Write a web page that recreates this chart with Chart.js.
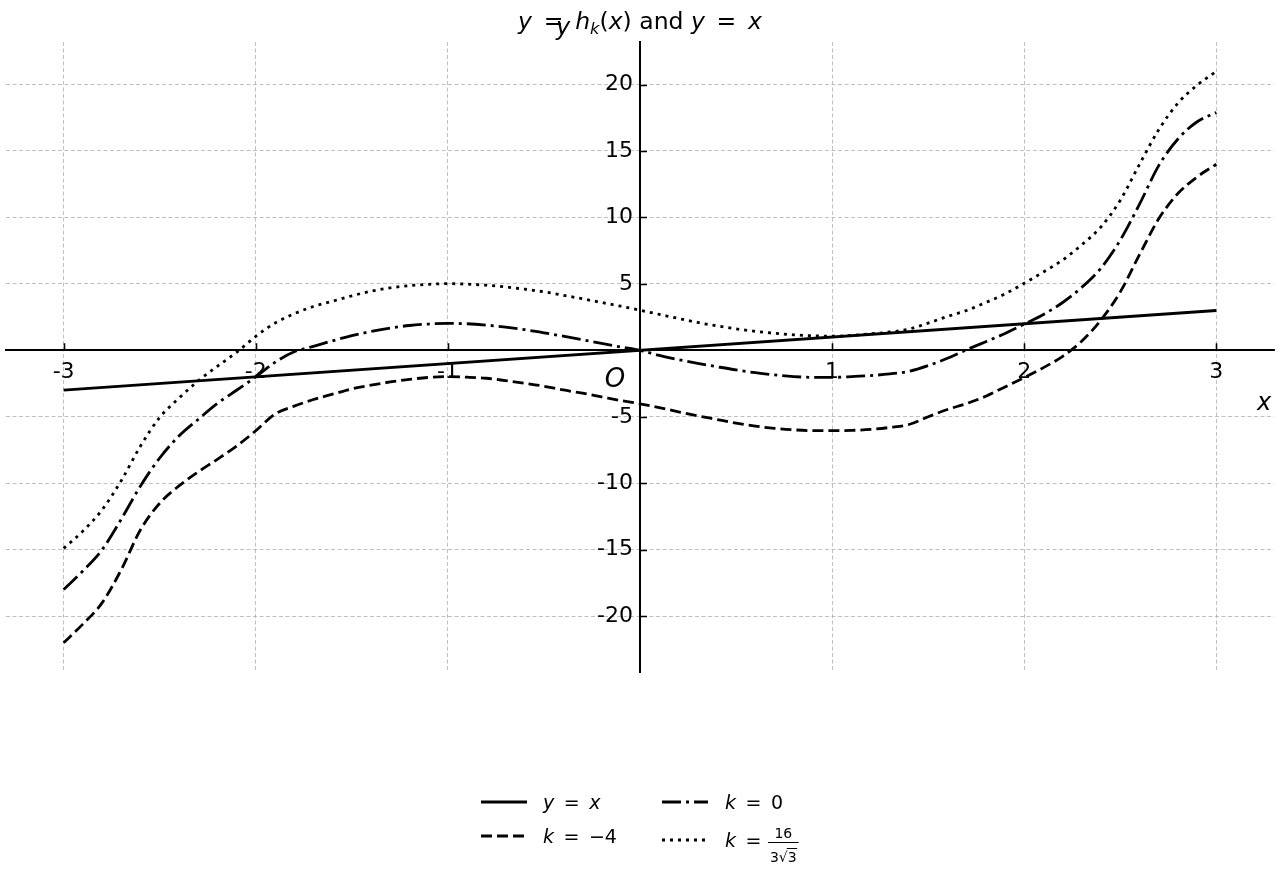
<!DOCTYPE html>
<html>
<head>
<meta charset="utf-8">
<script src="https://cdn.jsdelivr.net/npm/chart.js@4.4.1/dist/chart.umd.min.js"></script>
<style>
  html, body { margin: 0; padding: 0; background: #fff; }
</style>
</head>
<body>
<canvas id="hChart" width="1280" height="880"></canvas>
<script>
// sample positions along x
const xs = [-3, -2.9, -2.8, -2.7, -2.6, -2.5, -2.4, -2.3, -2.2, -2.1,
            -2, -1.9, -1.8, -1.7, -1.6, -1.5, -1.4, -1.3, -1.2, -1.1,
            -1, -0.9, -0.8, -0.7, -0.6, -0.5, -0.4, -0.3, -0.2, -0.1,
            0, 0.1, 0.2, 0.3, 0.4, 0.5, 0.6, 0.7, 0.8, 0.9,
            1, 1.1, 1.2, 1.3, 1.4, 1.5, 1.6, 1.7, 1.8, 1.9,
            2, 2.1, 2.2, 2.3, 2.4, 2.5, 2.6, 2.7, 2.8, 2.9, 3];

// y = x
const lineX = [-3, 3];
const lineY = [-3, 3];

// k = -4 (dashed)
const kMinus4 = [-22, -20.6, -19.0, -16.5, -13.5, -11.5, -10.2, -9.15, -8.2, -7.2,
                 -6.05, -4.8, -4.2, -3.7, -3.3, -2.9, -2.62, -2.38, -2.18, -2.04,
                 -1.98, -2.02, -2.1, -2.28, -2.48, -2.7, -2.98, -3.22, -3.5, -3.78,
                 -4.02, -4.3, -4.62, -4.92, -5.2, -5.48, -5.7, -5.87, -5.98, -6.04,
                 -6.04, -6.02, -5.95, -5.8, -5.58, -5.0, -4.45, -4.0, -3.45, -2.75,
                 -2.05, -1.3, -0.45, 0.7, 2.3, 4.4, 7.2, 9.9, 11.8, 13.05, 14.0];

// k = 0 (dash-dot)
const kZero = [-18, -16.6, -15.0, -12.7, -10.2, -8.1, -6.45, -5.2, -4.0, -3.0,
               -2.0, -0.9, -0.1, 0.3, 0.72, 1.1, 1.42, 1.68, 1.87, 1.98,
               2.03, 2.0, 1.9, 1.75, 1.56, 1.32, 1.07, 0.8, 0.52, 0.25,
               0, -0.38, -0.7, -0.98, -1.23, -1.47, -1.68, -1.85, -1.97, -2.03,
               -2.03, -1.98, -1.9, -1.77, -1.58, -1.15, -0.6, 0.05, 0.65, 1.27,
               1.97, 2.7, 3.6, 4.75, 6.2, 8.3, 11.0, 13.9, 15.9, 17.2, 17.9];

// k = 16/(3*sqrt(3)) (dotted)
const kDotted = [-14.9, -13.6, -12.0, -9.8, -7.2, -5.05, -3.6, -2.3, -1.2, -0.15,
                 1.05, 2.05, 2.75, 3.3, 3.7, 4.1, 4.45, 4.7, 4.87, 4.97,
                 5.02, 4.98, 4.9, 4.77, 4.6, 4.4, 4.15, 3.88, 3.6, 3.32,
                 3.02, 2.71, 2.4, 2.1, 1.84, 1.62, 1.43, 1.28, 1.17, 1.1,
                 1.06, 1.12, 1.24, 1.38, 1.6, 2.05, 2.55, 3.0, 3.6, 4.25,
                 5.05, 5.9, 6.8, 7.95, 9.3, 11.3, 14.0, 16.6, 18.6, 19.95, 21.0];

const FONT = '"DejaVu Sans", sans-serif';
const EQ = '\u2002=\u2002';

function toPoints(xv, yv) {
    return xv.map((x, i) => ({ x: x, y: yv[i] }));
}

// draws a run of text pieces: [text, italic, scale, dy]
function drawRich(ctx, parts, x, y, size, align) {
    const fonts = parts.map(p => (p[1] ? 'italic ' : '') + (size * (p[2] || 1)).toFixed(1) + 'px ' + FONT);
    let w = 0;
    parts.forEach((p, i) => { ctx.font = fonts[i]; w += ctx.measureText(p[0]).width; });
    let cx = align === 'center' ? x - w / 2 : x;
    ctx.textAlign = 'left';
    ctx.textBaseline = 'alphabetic';
    parts.forEach((p, i) => {
        ctx.font = fonts[i];
        ctx.fillText(p[0], cx, y + (p[3] || 0));
        cx += ctx.measureText(p[0]).width;
    });
    return cx;
}

const decorations = {
    id: 'decorations',
    afterDraw(chart) {
        const ctx = chart.ctx;
        const sx = chart.scales.x, sy = chart.scales.y;
        const x0 = sx.getPixelForValue(0), y0 = sy.getPixelForValue(0);
        ctx.save();
        ctx.fillStyle = '#000';
        ctx.strokeStyle = '#000';

        // small inward ticks
        ctx.lineWidth = 1.6;
        ctx.beginPath();
        sx.ticks.forEach(t => {
            if (t.value === 0) return;
            const px = Math.round(sx.getPixelForValue(t.value)) + 0.5;
            ctx.moveTo(px, y0); ctx.lineTo(px, y0 - 7);
        });
        sy.ticks.forEach(t => {
            if (t.value === 0) return;
            const py = Math.round(sy.getPixelForValue(t.value)) + 0.5;
            ctx.moveTo(x0, py); ctx.lineTo(x0 + 7, py);
        });
        ctx.stroke();

        // title
        drawRich(ctx, [['y', 1], [EQ, 0], ['h', 1], ['k', 1, 0.7, 5], ['(', 0], ['x', 1], [')', 0],
                       [' and ', 0], ['y', 1], [EQ, 0], ['x', 1]], 640, 29, 23.5, 'center');

        // axis labels and origin
        drawRich(ctx, [['y', 1]], 563, 35, 24, 'center');
        drawRich(ctx, [['x', 1]], 1264, 410, 24, 'center');
        drawRich(ctx, [['O', 1]], 615, 387, 26, 'center');

        // legend
        const ds = chart.data.datasets;
        const rows = [
            { d: ds[0], lx: 481, ly: 802, tx: 543, ty: 809, parts: [['y', 1], [EQ, 0], ['x', 1]] },
            { d: ds[1], lx: 481, ly: 836, tx: 543, ty: 843, parts: [['k', 1], [EQ + '\u22124', 0]] },
            { d: ds[2], lx: 662, ly: 802, tx: 725, ty: 809, parts: [['k', 1], [EQ + '0', 0]] },
            { d: ds[3], lx: 662, ly: 840, tx: 725, ty: 847, parts: [['k', 1], [EQ, 0]] }
        ];
        rows.forEach(r => {
            ctx.save();
            ctx.lineWidth = r.d.borderWidth;
            ctx.lineCap = 'butt';
            ctx.setLineDash(r.d.borderDash || []);
            ctx.beginPath();
            ctx.moveTo(r.lx, r.ly); ctx.lineTo(r.lx + 46, r.ly);
            ctx.stroke();
            ctx.restore();
            r.end = drawRich(ctx, r.parts, r.tx, r.ty, 19, 'left');
        });

        // fraction 16 / (3 sqrt 3)
        const fx = rows[3].end - 3;
        ctx.font = '14px ' + FONT;
        const denW = ctx.measureText('3\u221a3').width;
        const barW = denW + 4;
        ctx.textAlign = 'center';
        ctx.textBaseline = 'alphabetic';
        ctx.fillText('16', fx + barW / 2, 838);
        ctx.lineWidth = 1;
        ctx.beginPath();
        ctx.moveTo(fx, 842.5); ctx.lineTo(fx + barW, 842.5);
        ctx.stroke();
        ctx.textAlign = 'left';
        const dx = fx + 2;
        ctx.fillText('3\u221a3', dx, 862);
        const w3 = ctx.measureText('3').width;
        const wr = ctx.measureText('3\u221a').width;
        ctx.beginPath();
        ctx.moveTo(dx + wr - 1, 848.5); ctx.lineTo(dx + wr + w3 + 0.5, 848.5);
        ctx.stroke();

        ctx.restore();
    }
};

const tickFont = { family: FONT, size: 22 };

new Chart(document.getElementById('hChart'), {
    type: 'line',
    data: {
        datasets: [
            { label: 'y = x', data: toPoints(lineX, lineY), borderColor: '#000', borderWidth: 2.8, borderDash: [] },
            { label: 'k = -4', data: toPoints(xs, kMinus4), borderColor: '#000', borderWidth: 2.8, borderDash: [11, 5] },
            { label: 'k = 0', data: toPoints(xs, kZero), borderColor: '#000', borderWidth: 2.8, borderDash: [19, 5, 3, 5] },
            { label: 'k = 16/(3\u221a3)', data: toPoints(xs, kDotted), borderColor: '#000', borderWidth: 2.8, borderDash: [3, 5] }
        ]
    },
    options: {
        responsive: false,
        animation: false,
        devicePixelRatio: 1,
        layout: { padding: { left: 6, right: 6, top: 42, bottom: 208 } },
        elements: {
            point: { radius: 0 },
            line: { cubicInterpolationMode: 'monotone', borderCapStyle: 'butt', fill: false }
        },
        plugins: {
            legend: { display: false },
            tooltip: { enabled: false },
            title: { display: false }
        },
        scales: {
            x: {
                type: 'linear',
                min: -3.3,
                max: 3.3,
                position: { y: 0 },
                grid: { color: '#b0b0b0', lineWidth: 0.8, drawTicks: false },
                border: { display: true, color: '#000', width: 2, dash: [4, 2.5] },
                ticks: {
                    stepSize: 1, includeBounds: false, autoSkip: false, maxRotation: 0,
                    padding: 9, color: '#000', font: tickFont,
                    callback: v => (v === 0 ? '' : String(v))
                }
            },
            y: {
                type: 'linear',
                min: -24.2,
                max: 23.2,
                position: { x: 0 },
                grid: { color: '#b0b0b0', lineWidth: 0.8, drawTicks: false },
                border: { display: true, color: '#000', width: 2, dash: [4, 2.5] },
                ticks: {
                    stepSize: 5, includeBounds: false, autoSkip: false,
                    color: '#000', font: tickFont,
                    // the label sits on the spine, a trailing space keeps it clear
                    callback: v => (v === 0 ? '' : String(v) + ' ')
                }
            }
        }
    },
    plugins: [decorations]
});
</script>
</body>
</html>
